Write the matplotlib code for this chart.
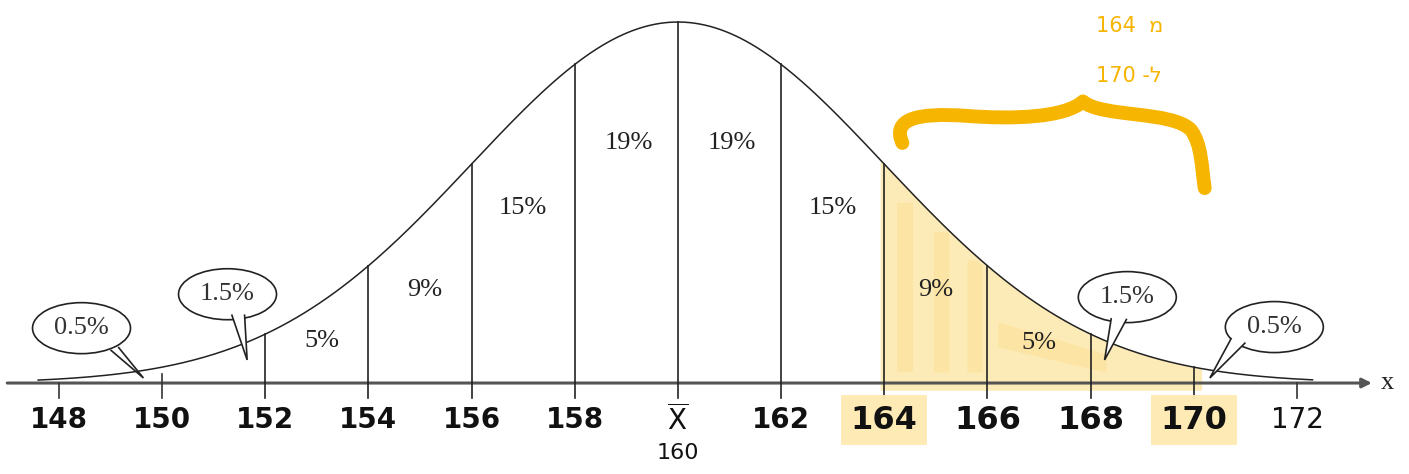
import numpy as np
import matplotlib
matplotlib.use("Agg")
import matplotlib.pyplot as plt
from matplotlib.patches import Ellipse, PathPatch
from matplotlib.path import Path

# distribution of heights: mean and standard deviation
mean = 160
sd = 4

# boundaries drawn as vertical lines, and the share of each band between them
bounds = [152, 154, 156, 158, 160, 162, 164, 166, 168, 170]
band_mid = [153.1, 155.1, 157, 159.05, 161.05, 163, 165, 167]
band_pct = ["5%", "9%", "15%", "19%", "19%", "15%", "9%", "5%"]
band_y = [0.116, 0.258, 0.485, 0.665, 0.665, 0.485, 0.258, 0.11]

# tail shares shown in speech bubbles
bubble_txt = ["0.5%", "1.5%", "1.5%", "0.5%"]
bubble_xy = [(148.44, 0.152), (151.27, 0.246), (168.71, 0.238), (171.56, 0.155)]
bubble_tip = [(149.64, 0.014), (151.65, 0.064), (168.27, 0.064), (170.31, 0.014)]
bubble_base = [[(149.0, 0.092), (149.15, 0.10)], [(151.35, 0.19), (151.6, 0.19)],
               [(168.4, 0.18), (168.7, 0.178)], [(170.73, 0.125), (171.0, 0.112)]]

# axis tick labels
tick_vals = [148, 150, 152, 154, 156, 158, 160, 162, 164, 166, 168, 170, 172]
tick_text = ["148", "150", "152", "154", "156", "158", r"$\overline{\mathrm{X}}$", "162",
             "164", "166", "168", "170", "172"]
bold_ticks = [164, 166, 168, 170]
marked_ticks = [164, 170]

# highlighted range 164..170 and the hand-drawn brace above it (cubic bezier)
hl_lo, hl_hi = 164, 170
brace_pts = [(164.35, 0.665),
             (164.15, 0.73), (164.6, 0.75), (165.6, 0.74),
             (166.5, 0.73), (167.5, 0.735), (167.85, 0.78),
             (168.2, 0.735), (169.6, 0.755), (169.95, 0.7),
             (170.15, 0.66), (170.15, 0.6), (170.21, 0.54)]
note_lines = ["164  \u05de", "170 -\u05dc"]

yellow = "#f6b500"
hl_color = "#fde9b0"


def pdf(x):
    return np.exp(-(x - mean) ** 2 / (2 * sd ** 2))


fig = plt.figure(figsize=(14.09, 4.74), dpi=100)
ax = fig.add_axes([0, 0, 1, 1])
ax.set_xlim(146.86, 174.17)
ax.set_ylim(-0.252, 1.061)
ax.axis("off")

# highlighted area under the curve, with a few darker marker strokes
xs = np.linspace(hl_lo - 0.08, hl_hi + 0.15, 200)
ax.fill_between(xs, -0.02, pdf(xs), color=hl_color, alpha=0.9, lw=0, zorder=1)
for xa, xb, top in [(164.25, 164.55, 0.5), (164.95, 165.25, 0.42), (165.6, 165.9, 0.34)]:
    xx = np.linspace(xa, xb, 20)
    ax.fill_between(xx, 0.03, np.minimum(top, pdf(xx) - 0.01), color="#fad47a",
                    alpha=0.3, lw=0, zorder=1)
ax.fill_between([166.2, 168.3], [0.1, 0.03], [0.17, 0.08], color="#fad47a",
                alpha=0.3, lw=0, zorder=1)

# curve
xc = np.linspace(147.6, 172.3, 500)
ax.plot(xc, pdf(xc), color="#222222", lw=1.1, zorder=3)

# x axis with arrow
ax.annotate("", xy=(173.45, 0), xytext=(147.0, 0),
            arrowprops=dict(arrowstyle="-|>", color="#555555", lw=2.2,
                            mutation_scale=14, shrinkA=0, shrinkB=0), zorder=2)
ax.text(173.62, 0.0, "x", family="Liberation Serif", fontsize=19,
        va="center", ha="left", color="#222222")

# vertical boundary lines and small ticks
for b in bounds:
    ax.plot([b, b], [-0.042, pdf(b)], color="#222222", lw=1.2, zorder=3)
for t in [148, 150, 172]:
    ax.plot([t, t], [-0.042, 0.025 if t == 150 else 0.0], color="#333333", lw=1.2, zorder=3)

# band percentages
for xm, yy, s in zip(band_mid, band_y, band_pct):
    ax.text(xm, yy, s, family="Liberation Serif", fontsize=19,
            ha="center", va="center", color="#222222", zorder=4)

# speech bubbles for the tails
for s, (cx, cy), tip, base in zip(bubble_txt, bubble_xy, bubble_tip, bubble_base):
    ell = Ellipse((cx, cy), 98 / 51.6, 51 / 361, facecolor="white",
                  edgecolor="#222222", lw=1.2, zorder=5)
    ax.add_patch(ell)
    path = Path([base[0], tip, base[1]], [Path.MOVETO, Path.LINETO, Path.LINETO])
    ax.add_patch(PathPatch(path, facecolor="white", edgecolor="#222222", lw=1.2, zorder=6))
    ax.text(cx, cy, s, family="Liberation Serif", fontsize=19,
            ha="center", va="center", color="#333333", zorder=7)

# tick labels (hand-written look)
for v, s in zip(tick_vals, tick_text):
    bbox = None
    if v in marked_ticks:
        bbox = dict(boxstyle="square,pad=0.3", facecolor=hl_color, edgecolor="none", alpha=0.95)
    ax.text(v, -0.103, s, family="DejaVu Sans",
            fontsize=23 if v in bold_ticks else 20,
            fontweight="normal" if v == 172 else "bold",
            ha="center", va="center", color="#111111", bbox=bbox, zorder=4)
ax.text(mean, -0.193, "160", family="DejaVu Sans",
        fontsize=16, ha="center", va="center", color="#111111")

# brace and note
codes = [Path.MOVETO] + [Path.CURVE4] * (len(brace_pts) - 1)
ax.add_patch(PathPatch(Path(brace_pts, codes), facecolor="none", edgecolor=yellow,
                       lw=10, capstyle="round", joinstyle="round", zorder=4))
ax.text(168.1, 0.99, note_lines[0], family="DejaVu Sans", fontsize=15,
        color=yellow, ha="left", va="center")
ax.text(168.1, 0.85, note_lines[1], family="DejaVu Sans", fontsize=15,
        color=yellow, ha="left", va="center")

fig.savefig("out.png", dpi=100)
